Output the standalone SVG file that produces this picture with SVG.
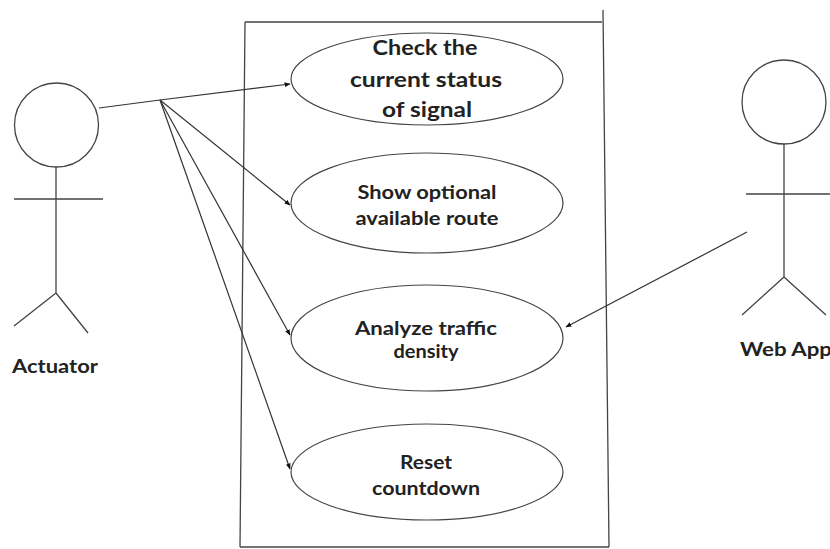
<svg xmlns="http://www.w3.org/2000/svg" width="830" height="549" viewBox="0 0 830 549">
<style>
.s{fill:none;stroke:#444;stroke-width:1.3}
.e{fill:#fff;stroke:#444;stroke-width:1.2}
.c{fill:none;stroke:#333;stroke-width:1.2}
text{font-family:Lato,"Open Sans","Liberation Sans",sans-serif;font-weight:bold;fill:#222;text-anchor:middle}
.t16{font-size:18px}
.t20{font-size:21px}
</style>
<defs>
<marker id="ah" viewBox="0 0 10 10" refX="9" refY="5" markerWidth="6" markerHeight="6" orient="auto" markerUnits="userSpaceOnUse">
<path d="M0,1 L10,5 L0,9 z" fill="#111"/>
</marker>
</defs>
<rect width="830" height="549" fill="#fff"/>
<g id="system" class="s">
<path d="M245,22 L602,22"/>
<path d="M245,22 L240,547"/>
<path d="M240,547 L609,547"/>
<path d="M603,10 L609,547"/>
</g>
<g id="actuator">
<circle class="s" cx="56.5" cy="125" r="42"/>
<path class="s" d="M56,167 L56,293 M14,199 L103,199 M56,293 L14,326 M56,293 L88,333"/>
<text x="55" y="373" class="t16" textLength="86" lengthAdjust="spacingAndGlyphs">Actuator</text>
</g>
<g id="webapp">
<circle class="s" cx="784" cy="102" r="42"/>
<path class="s" d="M784,144 L784,277 M746,194 L835,194 M784,277 L742,315 M784,277 L826,315"/>
<text x="740" y="356" class="t16" style="text-anchor:start" textLength="92" lengthAdjust="spacingAndGlyphs">Web App</text>
</g>
<g id="uc1">
<ellipse class="e" cx="427" cy="79" rx="136" ry="46"/>
<text x="425" y="55" class="t20" textLength="105" lengthAdjust="spacingAndGlyphs">Check the</text>
<text x="426" y="87" class="t20" textLength="152" lengthAdjust="spacingAndGlyphs">current status</text>
<text x="427" y="117" class="t20" textLength="90" lengthAdjust="spacingAndGlyphs">of signal</text>
</g>
<g id="uc2">
<ellipse class="e" cx="427" cy="203" rx="136" ry="50"/>
<text x="427" y="199" class="t16" textLength="139" lengthAdjust="spacingAndGlyphs">Show optional</text>
<text x="427" y="225" class="t16" textLength="143" lengthAdjust="spacingAndGlyphs">available route</text>
</g>
<g id="uc3">
<ellipse class="e" cx="427" cy="338" rx="136" ry="53"/>
<text x="426" y="335" class="t16" textLength="142" lengthAdjust="spacingAndGlyphs">Analyze traffic</text>
<text x="426" y="358" class="t16" textLength="65" lengthAdjust="spacingAndGlyphs">density</text>
</g>
<g id="uc4">
<ellipse class="e" cx="427" cy="472" rx="136" ry="48"/>
<text x="426" y="469" class="t16" textLength="52" lengthAdjust="spacingAndGlyphs">Reset</text>
<text x="426" y="495" class="t16" textLength="108" lengthAdjust="spacingAndGlyphs">countdown</text>
</g>
<g id="connectors" class="c">
<path d="M99,108 L160,100 L290,84" marker-end="url(#ah)"/>
<path d="M160,100 L290,205" marker-end="url(#ah)"/>
<path d="M160,100 L290,335" marker-end="url(#ah)"/>
<path d="M160,100 L290,469" marker-end="url(#ah)"/>
<path d="M747,232 L566,327" marker-end="url(#ah)"/>
</g>
</svg>
